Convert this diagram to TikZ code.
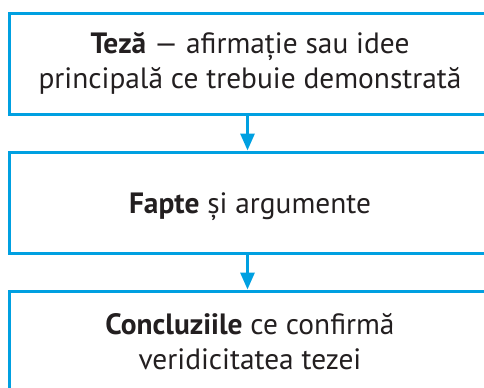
\documentclass[tikz,border=0pt]{standalone}
\usepackage{fontspec}
\setmainfont{PT Sans}
\usetikzlibrary{arrows.meta}
\definecolor{boxblue}{RGB}{0,160,225}
\definecolor{txt}{RGB}{35,31,32}
\begin{document}
\begin{tikzpicture}[x=1bp,y=-1bp,
  box/.style={draw=boxblue,line width=3bp,minimum width=480bp,minimum height=101bp,inner sep=0pt,align=center,text=txt,font=\fontsize{29.5}{35}\selectfont},
  boxtext/.style={inner sep=0pt,align=center,text=txt,font=\fontsize{29.5}{35}\selectfont},
  conn/.style={draw=boxblue,line width=3bp,-{Triangle[width=14bp,length=17bp]}}]
\useasboundingbox (0,0) rectangle (484,387);
\clip (0,0) rectangle (484,387);
\node[box] (teza) at (250,63.5) {\textbf{Teză} — afirmație sau idee\\principală ce trebuie demonstrată};
\node[box] (fapte) at (250,202.5) {};
\node[boxtext] (faptetext) at ([yshift=-4bp]fapte.center) {\textbf{Fapte} și argumente};
\node[box] (concl) at (250,341.5) {\textbf{Concluziile} ce confirmă\\veridicitatea tezei};
\coordinate (a1) at (247.5,114);
\draw[conn] (teza.south -| a1) -- (fapte.north -| a1);
\draw[conn] (fapte.south -| a1) -- (concl.north -| a1);
\end{tikzpicture}
\end{document}
